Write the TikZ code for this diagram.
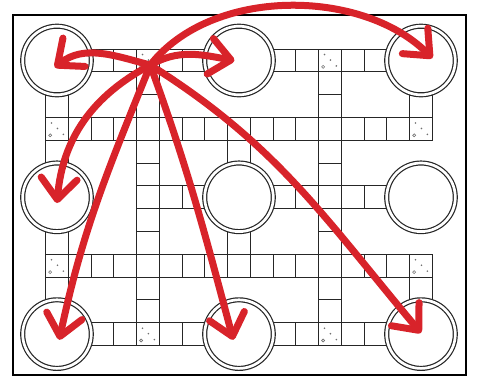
\documentclass[tikz,border=0pt]{standalone}
\usepackage{xcolor}
\usepackage{tikz}
\usetikzlibrary{arrows.meta}
\definecolor{boardInk}{HTML}{262626}
\definecolor{hintGray}{HTML}{707070}
\definecolor{jumpRed}{HTML}{D8232A}

\begin{document}
\begin{tikzpicture}[
  x=22.75pt, y=22.8pt,
  cell/.style={draw=boardInk, line width=1pt},
  spot/.style={circle, draw=boardInk, line width=1.2pt, double=white,
               double distance=2.7pt, fill=white, minimum size=68.6pt, inner sep=0pt},
  hint/.style={fill=hintGray},
  frame/.style={draw=black, line width=1.4pt},
  jump/.style={draw=jumpRed, line width=7pt, line cap=round,
               -{Straight Barb[length=21pt,width=36pt,round]}}
]
\useasboundingbox (-2.505,-13.838) rectangle (18.462,2.654);

\foreach \r in {0,12}
  \foreach \c in {2,...,6,10,11,12,13,14}
    \draw[cell] (\c-0.5,-\r-0.5) rectangle ++(1,1);
\foreach \r in {3,9}
  \foreach \c in {0,...,16}
    \draw[cell] (\c-0.5,-\r-0.5) rectangle ++(1,1);
\foreach \c in {4,12}
  \foreach \r in {1,...,11}
    \draw[cell] (\c-0.5,-\r-0.5) rectangle ++(1,1);
\foreach \c/\r in {0/2,0/4,0/8,0/10,16/2,16/10,8/4,8/8,5/6,6/6,10/6,11/6,13/6,14/6}
  \draw[cell] (\c-0.5,-\r-0.5) rectangle ++(1,1);

\foreach \c/\r in {4/0,12/0,0/3,16/3,0/9,16/9,4/12,12/12} {
  \fill[hint] (\c-0.24,-\r+0.26) circle (0.9pt);
  \fill[hint] (\c+0.02,-\r+0.02) circle (0.9pt);
  \fill[hint] (\c+0.28,-\r-0.24) circle (0.9pt);
  \draw[hintGray, line width=0.6pt] (\c-0.3,-\r-0.28) circle (1.5pt);
}

\node[spot] (TL) at (0,0) {};
\node[spot] (TM) at (8,0) {};
\node[spot] (TR) at (16,0) {};
\node[spot] (ML) at (0,-6) {};
\node[spot] (MM) at (8,-6) {};
\node[spot] (MR) at (16,-6) {};
\node[spot] (BL) at (0,-12) {};
\node[spot] (BM) at (8,-12) {};
\node[spot] (BR) at (16,-12) {};

\draw[frame] (-1.934,-13.79) rectangle (17.98,1.996);

\coordinate (hub) at (4.1,-0.2);
\draw[jump] (hub) to[out=165,in=38] ([shift={(-0.1,-0.3)}]TL.center);
\draw[jump] (hub) to[out=30,in=170] ([shift={(-0.2,0)}]TM.center);
\draw[jump] (hub) to[out=52,in=135,looseness=0.9] ([shift={(0.5,0.1)}]TR.center);
\draw[jump] (hub) to[out=208,in=85] ([shift={(0,-0.25)}]ML.center);
\draw[jump] (hub) to[out=248,in=78] ([shift={(0.1,-0.25)}]BL.center);
\draw[jump] (hub) to[out=290,in=105] ([shift={(-0.25,-0.25)}]BM.center);
\draw[jump] (hub) to[out=-32,in=130] ([shift={(0,0.05)}]BR.center);
\end{tikzpicture}
\end{document}
